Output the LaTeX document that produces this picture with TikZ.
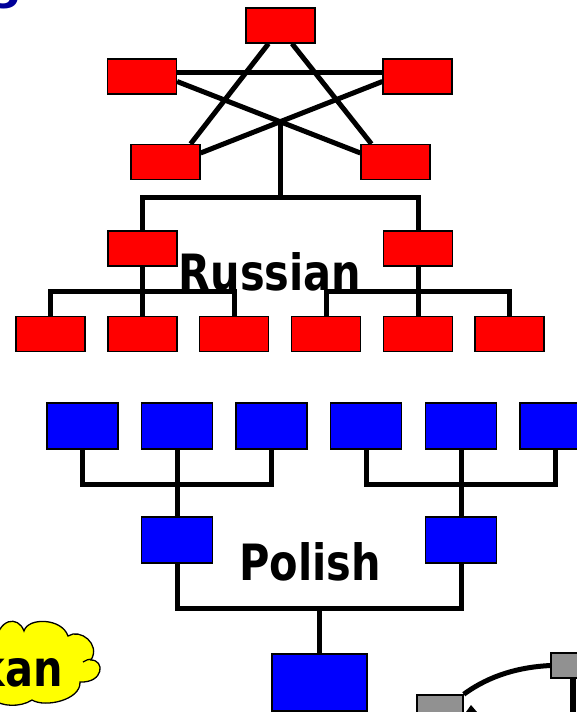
\documentclass[tikz,border=0pt]{standalone}
\usepackage{fontspec}
\newfontfamily\lblfont[FakeStretch=0.83]{DejaVu Sans Bold}
\newfontfamily\ttlfont{DejaVu Sans Bold}
\definecolor{rd}{RGB}{255,0,0}
\definecolor{bl}{RGB}{0,0,255}
\definecolor{gry}{RGB}{145,145,145}
\definecolor{ylw}{RGB}{255,255,0}
\definecolor{ttl}{RGB}{0,0,153}
\pgfdeclarelayer{bg}
\pgfsetlayers{bg,main}
\begin{document}
\begin{tikzpicture}[x=1pt,y=-1pt,
  rbox/.style={draw=black,line width=1.2pt,fill=rd,minimum width=69pt,minimum height=35pt,inner sep=0pt},
  bbox/.style={draw=black,line width=1.2pt,fill=bl,minimum width=71pt,minimum height=46pt,inner sep=0pt},
  gbox/.style={draw=black,line width=1.5pt,fill=gry,inner sep=0pt},
  wire/.style={line width=5pt,line join=miter},
  lbl/.style={font=\lblfont\fontsize{50}{60}\selectfont,inner sep=0pt}]
\clip (0,0) rectangle (577,712);

% title fragment
\node[font=\ttlfont\fontsize{44}{50}\selectfont,text=ttl,anchor=base east,inner sep=0pt] (gg) at (22,-1) {g};

% ---------- Russian ----------
\node[rbox] (t)  at (280.5,25.5) {};
\node[rbox] (ul) at (142,76.5) {};
\node[rbox] (ur) at (417.5,76.5) {};
\node[rbox] (ll) at (165.5,162) {};
\node[rbox] (lr) at (395.5,162) {};
\node[rbox] (m1) at (142.5,248.5) {};
\node[rbox] (m2) at (418,248.5) {};
\node[rbox] (b1) at (50.5,334) {};
\node[rbox] (b2) at (142.5,334) {};
\node[rbox] (b3) at (234,334) {};
\node[rbox] (b4) at (326,334) {};
\node[rbox] (b5) at (418,334) {};
\node[rbox] (b6) at (509.5,334) {};
\coordinate (hub) at (280.5,122);
\coordinate (rbar) at (280.5,197);
\coordinate (rl) at (142.5,291);
\coordinate (rr) at (418,291);

% ---------- Polish ----------
\node[bbox] (p1) at (82.5,426) {};
\node[bbox] (p2) at (177,426) {};
\node[bbox] (p3) at (271.5,426) {};
\node[bbox] (p4) at (366,426) {};
\node[bbox] (p5) at (461,426) {};
\node[bbox] (p6) at (555.5,426) {};
\node[bbox] (q1) at (177,540) {};
\node[bbox] (q2) at (461,540) {};
\node[bbox,minimum width=95pt,minimum height=57pt] (r) at (319.5,682.5) {};
\coordinate (pl) at (177,484);
\coordinate (pr) at (461,484);
\coordinate (pb) at (319.5,608);

\begin{pgfonlayer}{bg}
  \fill[white] (0,0) rectangle (577,712);
  \draw[wire] ([xshift=-12pt]t.south) -- ([xshift=-10pt]ll.north east);
  \draw[wire] ([xshift=11.5pt]t.south) -- ([xshift=11pt]lr.north west);
  \draw[wire] ([yshift=4.5pt]ul.east) -- ([yshift=4.5pt]ur.west);
  \draw[wire] ([yshift=-5pt]ul.east) -- ([yshift=9pt]lr.west);
  \draw[wire] ([yshift=-5pt]ur.west) -- ([yshift=9pt]ll.east);
  \draw[wire] (hub) -- (rbar);
  \draw[wire] (m1.north) |- (rbar) -| (m2.north);
  \draw[wire] (b1.north) |- (rl) -| (b3.north);
  \draw[wire] (m1.south) -- (b2.north);
  \draw[wire] (b4.north) |- (rr) -| (b6.north);
  \draw[wire] (m2.south) -- (b5.north);
  \draw[wire] (p1.south) |- (pl) -| (p3.south);
  \draw[wire] (p2.south) -- (q1.north);
  \draw[wire] (p4.south) |- (pr) -| (p6.south);
  \draw[wire] (p5.south) -- (q2.north);
  \draw[wire] (q1.south) |- (pb) -| (q2.south);
  \draw[wire] (pb) -- (r.north);
\end{pgfonlayer}

\node[lbl,anchor=base] (russ) at (270,290) {Russian};
\node[lbl,anchor=base] (pol) at (310,580) {Polish};

% ---------- cloud ----------
\draw[fill=ylw,line width=1.3pt]
  (-5,645) .. controls (-2,618) and (18,615) .. (24,631)
  .. controls (28,617) and (62,618) .. (68,636)
  .. controls (80,628) and (101,644) .. (91,660)
  .. controls (105,660) and (104,683) .. (80,682)
  .. controls (81,700) and (45,708) .. (32,700)
  .. controls (20,708) and (0,706) .. (-5,700) -- cycle;
\draw[line width=1.3pt] (83,662) .. controls (86,660) and (89,659) .. (92,659);
\node[lbl,anchor=base east] (kan) at (63,686) {kan};

% ---------- bottom right ----------
\node[gbox,minimum width=46pt,minimum height=32pt] (g1) at (440,711) {};
\node[gbox,minimum width=50pt,minimum height=25pt] (g2) at (576,665.5) {};
\coordinate (g2d) at (573,720);
\draw[line width=5pt] (g1.north east) .. controls (490,675) and (520,667) .. (g2.west);
\draw[line width=5.5pt] ([xshift=-3pt]g2.south) -- (g2d);
\fill (466,712) -- (471,705) -- (477,712) -- cycle;
\end{tikzpicture}
\end{document}
